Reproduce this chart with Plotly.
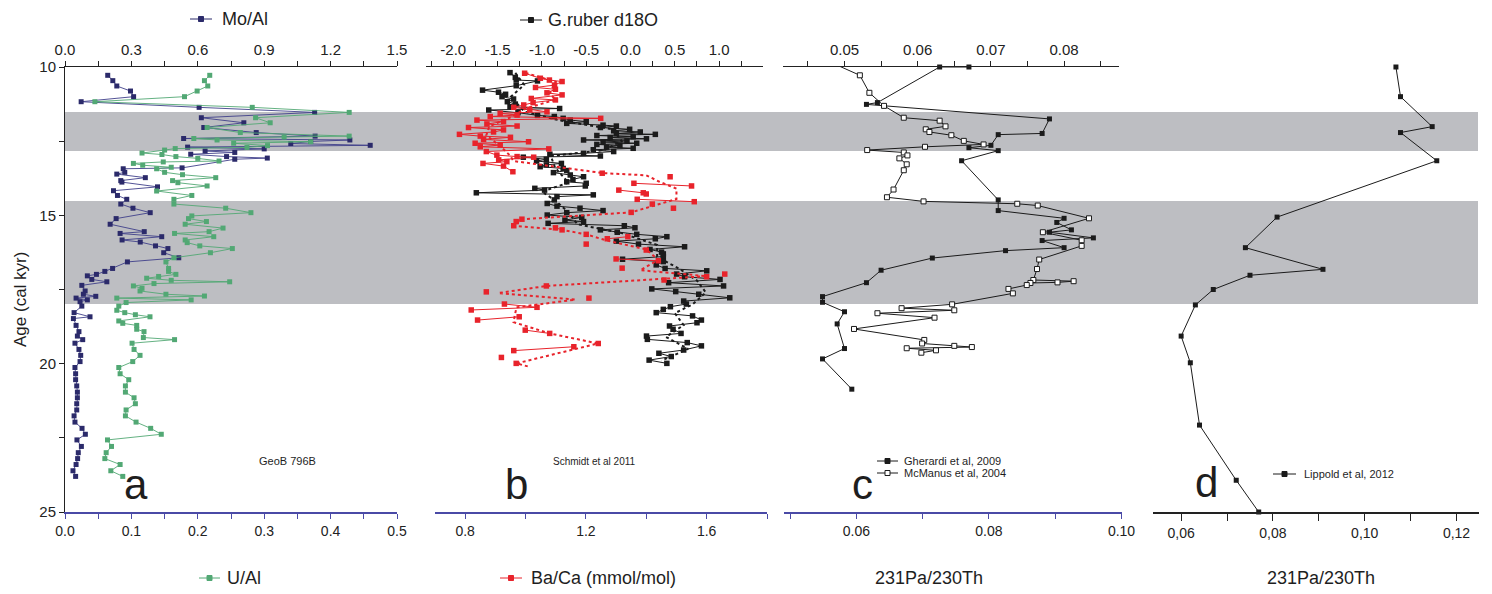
import plotly.graph_objects as go

# Target picture size and the browser's default page margin (8 px)
W, H = 1492, 594
OFF = 8
FW, FH = W - OFF, H - OFF

# ---------------- data ----------------
# Panel a: GeoB 796B
moal_age = [10.28, 10.46, 10.64, 10.81, 11.00, 11.17, 11.36, 11.53, 11.71, 11.88, 12.04, 12.21, 12.33, 12.41,
            12.46, 12.51, 12.58, 12.64, 12.70, 12.76, 12.83, 12.88, 12.94, 13.02, 13.07, 13.11, 13.40, 13.43,
            13.55, 13.61, 13.73, 13.83, 13.88, 14.04, 14.17, 14.33, 14.46, 14.62, 14.76, 14.91, 15.11, 15.30,
            15.55, 15.61, 15.72, 15.83, 15.90, 16.03, 16.12, 16.26, 16.43, 16.57, 16.79, 16.89, 16.99, 17.04,
            17.16, 17.24, 17.36, 17.55, 17.66, 17.73, 17.79, 17.85, 17.91, 18.06, 18.28, 18.42, 18.48, 18.71,
            18.92, 19.07, 19.19, 19.31, 19.52, 19.72, 19.93, 20.13, 20.34, 20.54, 20.75, 20.96, 21.15, 21.35,
            21.56, 21.76, 21.97, 22.18, 22.38, 22.57, 22.79, 23.00, 23.20, 23.40, 23.61, 23.80]
moal_val = [0.193, 0.216, 0.234, 0.296, 0.310, 0.073, 0.606, 1.128, 0.616, 0.808, 0.627, 0.864, 1.130, 0.536,
            1.287, 1.110, 1.020, 1.379, 0.554, 0.900, 0.633, 0.767, 0.568, 0.730, 0.914, 0.767, 0.529, 0.263,
            0.270, 0.234, 0.363, 0.252, 0.257, 0.418, 0.219, 0.237, 0.279, 0.252, 0.307, 0.385, 0.231, 0.204,
            0.358, 0.249, 0.437, 0.258, 0.340, 0.409, 0.465, 0.446, 0.514, 0.282, 0.215, 0.180, 0.142, 0.101,
            0.121, 0.189, 0.076, 0.091, 0.083, 0.139, 0.050, 0.101, 0.068, 0.076, 0.041, 0.113, 0.038, 0.050,
            0.063, 0.056, 0.080, 0.045, 0.063, 0.071, 0.068, 0.045, 0.048, 0.048, 0.053, 0.056, 0.056, 0.053,
            0.053, 0.041, 0.045, 0.077, 0.092, 0.054, 0.074, 0.060, 0.057, 0.050, 0.036, 0.048]

ual_age = [10.28, 10.46, 10.64, 10.81, 11.00, 11.17, 11.36, 11.53, 11.71, 11.88, 12.04, 12.21, 12.33, 12.36,
           12.41, 12.46, 12.52, 12.57, 12.65, 12.71, 12.75, 12.80, 12.90, 12.95, 13.02, 13.08, 13.17, 13.20,
           13.25, 13.31, 13.38, 13.43, 13.55, 13.63, 13.73, 13.83, 13.90, 14.01, 14.18, 14.33, 14.46, 14.62,
           14.76, 14.91, 15.02, 15.11, 15.21, 15.30, 15.43, 15.55, 15.61, 15.72, 15.83, 15.92, 16.03, 16.12,
           16.26, 16.43, 16.57, 16.79, 16.89, 16.99, 17.06, 17.12, 17.19, 17.24, 17.30, 17.38, 17.46, 17.55,
           17.66, 17.72, 17.79, 17.85, 17.94, 18.06, 18.20, 18.28, 18.35, 18.42, 18.56, 18.64, 18.71, 18.84,
           18.92, 19.12, 19.19, 19.31, 19.52, 19.72, 19.93, 20.13, 20.34, 20.54, 20.75, 20.96, 21.15, 21.35,
           21.56, 21.76, 21.97, 22.18, 22.38, 22.57, 22.79, 23.00, 23.20, 23.40, 23.61, 23.80]
ual_val = [0.218, 0.210, 0.215, 0.199, 0.180, 0.045, 0.282, 0.428, 0.287, 0.309, 0.214, 0.264, 0.428, 0.330,
           0.194, 0.229, 0.370, 0.254, 0.305, 0.274, 0.166, 0.150, 0.116, 0.146, 0.167, 0.200, 0.232, 0.148,
           0.103, 0.117, 0.160, 0.138, 0.150, 0.177, 0.227, 0.162, 0.170, 0.214, 0.138, 0.191, 0.164, 0.164,
           0.242, 0.280, 0.191, 0.186, 0.213, 0.181, 0.238, 0.217, 0.165, 0.224, 0.181, 0.184, 0.203, 0.252,
           0.219, 0.164, 0.152, 0.156, 0.156, 0.167, 0.141, 0.123, 0.160, 0.248, 0.134, 0.103, 0.116, 0.113,
           0.152, 0.210, 0.078, 0.190, 0.092, 0.081, 0.078, 0.090, 0.106, 0.128, 0.081, 0.087, 0.108, 0.108,
           0.119, 0.118, 0.165, 0.101, 0.104, 0.113, 0.102, 0.081, 0.083, 0.096, 0.091, 0.091, 0.104, 0.106,
           0.092, 0.091, 0.107, 0.129, 0.145, 0.064, 0.070, 0.062, 0.060, 0.083, 0.069, 0.087]

# Panel b: Schmidt et al 2011
d18o_age = [10.19, 10.35, 10.44, 10.47, 10.63, 10.78, 10.85, 10.92, 11.00, 11.08, 11.17, 11.25, 11.34, 11.40,
            11.45, 11.54, 11.63, 11.67, 11.73, 11.79, 11.84, 11.90, 11.96, 11.99, 12.04, 12.10, 12.15, 12.19,
            12.24, 12.27, 12.31, 12.35, 12.38, 12.42, 12.46, 12.49, 12.53, 12.57, 12.61, 12.65, 12.70, 12.74,
            12.79, 12.85, 12.91, 12.94, 13.00, 13.04, 13.11, 13.17, 13.25, 13.30, 13.36, 13.42, 13.49, 13.56,
            13.64, 13.70, 13.79, 13.87, 13.92, 14.01, 14.09, 14.15, 14.24, 14.31, 14.37, 14.48, 14.60, 14.69,
            14.76, 14.84, 14.91, 14.99, 15.07, 15.16, 15.21, 15.27, 15.35, 15.42, 15.49, 15.57, 15.64, 15.72,
            15.79, 15.87, 15.97, 16.06, 16.15, 16.24, 16.30, 16.39, 16.48, 16.56, 16.67, 16.79, 16.87, 16.98,
            17.07, 17.16, 17.27, 17.38, 17.48, 17.57, 17.66, 17.78, 17.89, 17.99, 18.08, 18.17, 18.28, 18.39,
            18.53, 18.62, 18.73, 18.84, 18.98, 19.07, 19.18, 19.29, 19.40, 19.54, 19.65, 19.76, 19.88, 19.99]
d18o_val = [-1.36, -1.30, -1.29, -1.05, -1.29, -1.67, -1.49, -1.41, -1.45, -1.32, -1.39, -1.30, -1.36, -0.80,
            -1.60, -1.27, -1.05, -0.86, -0.76, -0.68, -0.50, -0.72, -0.31, -0.16, -0.34, -0.01, -0.19, 0.11,
            -0.16, 0.28, -0.38, 0.03, -0.23, 0.18, -0.53, -0.04, -0.31, 0.07, -0.38, -0.12, -0.27, 0.03,
            -0.42, -0.19, -0.53, -0.91, -0.34, -1.21, -0.95, -1.06, -0.78, -0.95, -1.02, -0.76, -0.72, -0.87,
            -0.68, -0.53, -0.65, -0.72, -0.50, -0.51, -1.08, -0.97, -1.74, -0.42, -0.83, -0.86, -0.94, -0.83,
            -0.57, -0.31, -0.72, -0.94, -0.55, -0.74, -0.53, -0.93, -0.07, 0.05, -0.34, -0.15, 0.07, 0.41,
            0.28, -0.16, 0.09, 0.61, 0.22, 0.35, 0.37, 0.37, -0.09, 0.37, 0.29, 0.39, 0.86, 0.52,
            0.61, 1.01, 0.43, 1.05, 0.24, 0.51, 0.77, 1.12, 0.60, 0.63, 0.45, 0.37, 0.29, 0.70,
            0.80, 0.75, 0.44, 0.48, 0.57, 0.18, 0.19, 0.64, 0.80, 0.60, 0.32, 0.46, 0.21, 0.41]
d18o_smooth_age = [10.2, 10.6, 11.0, 11.5, 11.8, 12.1, 12.5, 12.8, 13.0, 13.4, 13.9, 14.2, 14.5, 14.9,
                   15.3, 15.6, 16.0, 16.4, 16.8, 17.2, 17.6, 18.0, 18.3, 18.7, 19.1, 19.5, 19.9]
d18o_smooth_val = [-1.30, -1.20, -1.35, -1.20, -0.80, -0.20, -0.10, -0.30, -0.90, -0.85, -0.70, -1.00, -0.85,
                   -0.70, -0.60, -0.10, 0.30, 0.30, 0.55, 0.75, 0.85, 0.70, 0.50, 0.60, 0.40, 0.65, 0.35]

baca_age = [10.21, 10.38, 10.44, 10.49, 10.61, 10.69, 10.75, 10.87, 10.94, 11.06, 11.11, 11.20, 11.28, 11.36,
            11.43, 11.51, 11.56, 11.62, 11.67, 11.73, 11.79, 11.84, 11.92, 11.99, 12.04, 12.12, 12.19, 12.27,
            12.33, 12.37, 12.44, 12.52, 12.57, 12.63, 12.69, 12.76, 12.85, 12.97, 13.02, 13.04, 13.13, 13.19,
            13.25, 13.34, 13.53, None, 13.58, None, 13.70, None, 13.92, 14.01, None, 14.15, 14.24, 14.28, None,
            14.46, 14.54, None, 14.62, None, 14.76, None, 14.90, None, 15.13, 15.21, None, 15.35, None, 15.42,
            15.49, None, 15.64, None, 15.72, 15.79, None, 15.97, None, 16.17, None, 16.47, 16.53, None, 16.78,
            None, 16.98, None, 17.07, None, 17.18, None, 17.38, None, 17.58, None, 17.79, None, 17.99, 18.10,
            18.19, None, 18.42, 18.53, None, 18.87, 18.98, None, 19.32, None, 19.43, 19.56, None, 19.79, None,
            19.99]
baca_val = [0.997, 1.049, 1.079, 1.121, 1.096, 1.033, 1.099, 1.071, 1.121, 1.019, 1.099, 1.025, 0.994, 0.961,
            1.014, 1.071, 0.916, 0.972, 0.883, 1.249, 0.839, 0.927, 0.872, 0.972, 0.811, 0.927, 0.894, 0.781,
            0.850, 0.950, 0.861, 1.010, 0.833, 0.916, 0.850, 1.077, 0.870, 0.905, 0.972, 1.027, 0.911, 0.938,
            0.859, 0.927, 0.958, None, 1.254, None, 1.479, None, 1.359, 1.550, None, 1.309, 1.390, 1.400, None,
            1.370, 1.559, None, 1.420, None, 1.490, None, 1.350, None, 0.988, 0.969, None, 0.961, None, 1.099,
            1.121, None, 1.201, None, 1.339, 1.271, None, 1.201, None, 1.400, None, 1.300, 1.440, None, 1.320,
            None, 1.660, None, 1.600, None, 1.459, None, 1.069, None, 0.870, None, 1.210, None, 0.930, 1.038,
            0.820, None, 0.979, 0.841, None, 0.999, 1.080, None, 1.241, None, 1.160, 0.961, None, 0.920, None,
            0.969]
baca_smooth_age = [10.2, 10.5, 10.9, 11.1, 11.4, 11.7, 12.0, 12.3, 12.7, 13.0, 13.17, 13.58, 13.65, 13.85,
                   14.1, 14.45, 14.9, 15.13, 15.35, 15.49, 15.64, 15.85, 16.15, 16.5, 16.85, 17.05, 17.38,
                   17.62, 17.84, 18.1, 18.6, 18.98, 19.32, 19.99, 20.1]
baca_smooth_val = [1.00, 1.10, 1.08, 1.10, 1.00, 0.95, 0.88, 0.87, 0.92, 0.95, 0.96, 1.26, 1.40, 1.44,
                   1.50, 1.50, 1.35, 0.99, 0.96, 1.12, 1.20, 1.27, 1.40, 1.44, 1.38, 1.60, 1.07,
                   0.91, 1.165, 0.97, 0.96, 1.08, 1.24, 0.97, 1.01]

# Panel c: 231Pa/230Th
gher_age = [10.00, 10.00, 11.20, 11.26, 11.75, 12.24, 12.28, 12.64, 12.72, 12.82, 13.16, 14.48, 14.84, 15.10,
            15.24, 15.49, 15.57, 15.76, 15.85, 16.09, 16.19, 16.44, 16.85, 17.27, 17.74, 17.93, 18.25, 18.66,
            19.49, 19.84, 20.86]
gher_val = [0.0670, 0.0630, 0.0545, 0.0530, 0.0780, 0.0770, 0.0710, 0.0700, 0.0670, 0.0710, 0.0660, 0.0710,
            0.0710, 0.0800, 0.0790, 0.0810, 0.0780, 0.0840, 0.0770, 0.0800, 0.0720, 0.0620, 0.0550, 0.0530,
            0.0470, 0.0470, 0.0500, 0.0490, 0.0500, 0.0470, 0.0510]
mcm_age = [9.96, 10.28, 10.87, 11.31, 11.71, 11.81, 12.00, 12.10, 12.19, 12.30, 12.49, 12.61, 12.69, 12.80,
           12.88, 12.98, 13.08, 13.28, 13.48, 14.13, 14.39, 14.53, 14.61, 14.67, 15.10, 15.57, 15.84, 16.03,
           16.49, 16.81, 17.18, 17.22, 17.26, 17.28, 17.35, 17.48, 17.63, 18.00, 18.13, 18.20, 18.30, 18.45,
           18.83, 19.20, 19.32, 19.40, 19.44, 19.48, 19.55, 19.63]
mcm_val = [0.0492, 0.0521, 0.0534, 0.0554, 0.0581, 0.0630, 0.0638, 0.0611, 0.0616, 0.0646, 0.0663, 0.0690,
           0.0610, 0.0531, 0.0581, 0.0586, 0.0575, 0.0585, 0.0581, 0.0567, 0.0558, 0.0608, 0.0736, 0.0764,
           0.0834, 0.0771, 0.0824, 0.0824, 0.0766, 0.0763, 0.0758, 0.0813, 0.0791, 0.0754, 0.0749, 0.0724,
           0.0730, 0.0647, 0.0578, 0.0650, 0.0545, 0.0623, 0.0513, 0.0609, 0.0606, 0.0650, 0.0674, 0.0585,
           0.0625, 0.0605]

# Panel d: Lippold et al 2012
lip_age = [10.00, 11.00, 12.01, 12.21, 13.16, 15.06, 16.09, 16.82, 17.02, 17.50, 18.02, 19.07, 19.97, 22.07,
           23.93, 25.00]
lip_val = [0.1068, 0.1078, 0.1147, 0.1078, 0.1157, 0.0809, 0.0740, 0.0909, 0.0750, 0.0670, 0.0631, 0.0600,
           0.0620, 0.0640, 0.0720, 0.0769]

# shaded intervals (cal kyr)
band_start = [11.52, 14.52]
band_end = [12.83, 17.99]

# ---------------- styling helpers ----------------
NAVY = "#2b2a6a"
GREEN = "#52a874"
RED = "#e8232b"
BLACK = "#1b1b1b"
BLUEAX = "#4a4aa6"
FONT = "Liberation Sans, Arial, sans-serif"


def px(x):
    return (x - OFF) / FW


def py(y):
    return 1 - (y - OFF) / FH


fig = go.Figure()

# Panel a
fig.add_trace(go.Scatter(x=ual_val, y=ual_age, xaxis="x2", yaxis="y", mode="lines+markers",
                         line=dict(color=GREEN, width=0.9),
                         marker=dict(symbol="square", size=5, color=GREEN), cliponaxis=False))
fig.add_trace(go.Scatter(x=moal_val, y=moal_age, xaxis="x", yaxis="y", mode="lines+markers",
                         line=dict(color="#3f3f8a", width=0.9),
                         marker=dict(symbol="square", size=5, color=NAVY), cliponaxis=False))
# Panel b
fig.add_trace(go.Scatter(x=d18o_smooth_val, y=d18o_smooth_age, xaxis="x3", yaxis="y", mode="lines",
                         line=dict(color=BLACK, width=2, dash="dot")))
fig.add_trace(go.Scatter(x=d18o_val, y=d18o_age, xaxis="x3", yaxis="y", mode="lines+markers",
                         line=dict(color=BLACK, width=1),
                         marker=dict(symbol="square", size=5.5, color=BLACK)))
fig.add_trace(go.Scatter(x=baca_smooth_val, y=baca_smooth_age, xaxis="x4", yaxis="y", mode="lines",
                         line=dict(color=RED, width=2, dash="dot")))
fig.add_trace(go.Scatter(x=baca_val, y=baca_age, xaxis="x4", yaxis="y", mode="lines+markers",
                         connectgaps=False, line=dict(color=RED, width=1),
                         marker=dict(symbol="square", size=5.5, color=RED)))
# Panel c
fig.add_trace(go.Scatter(x=gher_val, y=gher_age, xaxis="x5", yaxis="y", mode="lines+markers",
                         line=dict(color=BLACK, width=1),
                         marker=dict(symbol="square", size=5, color=BLACK), cliponaxis=False))
fig.add_trace(go.Scatter(x=mcm_val, y=mcm_age, xaxis="x5", yaxis="y", mode="lines+markers",
                         line=dict(color=BLACK, width=1),
                         marker=dict(symbol="square", size=5, color="white",
                                     line=dict(color=BLACK, width=1)), cliponaxis=False))
# Panel d
fig.add_trace(go.Scatter(x=lip_val, y=lip_age, xaxis="x7", yaxis="y", mode="lines+markers",
                         line=dict(color=BLACK, width=1),
                         marker=dict(symbol="square", size=5, color=BLACK), cliponaxis=False))
# activates the bottom axis of panel c
fig.add_trace(go.Scatter(x=[None], y=[None], xaxis="x6", yaxis="y", showlegend=False))

# gray bands
shapes = []
for s, e in zip(band_start, band_end):
    shapes.append(dict(type="rect", xref="paper", yref="y", x0=px(65), x1=px(1478), y0=s, y1=e,
                       fillcolor="#bdbec2", line=dict(width=0), layer="below"))


def legend_symbol(x0, x1, y, color, open_sq=False):
    xm = (x0 + x1) / 2
    shapes.append(dict(type="line", xref="paper", yref="paper", x0=px(x0), x1=px(x1), y0=py(y), y1=py(y),
                       line=dict(color=color, width=1)))
    shapes.append(dict(type="rect", xref="paper", yref="paper", x0=px(xm - 2.5), x1=px(xm + 2.5),
                       y0=py(y + 2.5), y1=py(y - 2.5), fillcolor="white" if open_sq else color,
                       line=dict(color=color, width=1)))


legend_symbol(190, 212, 19, NAVY)
legend_symbol(520, 542, 20, BLACK)
legend_symbol(199, 220, 578, GREEN)
legend_symbol(500, 522, 578, RED)
legend_symbol(877, 898, 461, BLACK)
legend_symbol(877, 898, 473, BLACK, open_sq=True)
legend_symbol(1273, 1296, 474, BLACK)

ann = []


def text(x, y, s, size, anchor="left", color="#1e1e1e", angle=0):
    ann.append(dict(x=px(x), y=py(y), xref="paper", yref="paper", text=s, showarrow=False,
                    xanchor=anchor, yanchor="middle", textangle=angle,
                    font=dict(family=FONT, size=size, color=color)))


text(220, 19, "Mo/Al", 18)
text(546, 20, "G.ruber d18O", 18)
text(225, 578, "U/Al", 18)
text(529, 578, "Ba/Ca (mmol/mol)", 18)
text(929, 578, "231Pa/230Th", 18, anchor="center")
text(1321, 578, "231Pa/230Th", 18, anchor="center")
text(20, 300, "Age (cal kyr)", 17, anchor="center", angle=-90)
text(136, 484, "a", 42, anchor="center")
text(516, 484, "b", 42, anchor="center")
text(862, 484, "c", 42, anchor="center")
text(1206, 482, "d", 42, anchor="center")
text(287, 461, "GeoB 796B", 11, anchor="center")
text(594, 461, "Schmidt et al 2011", 10, anchor="center")
text(902, 461, "Gherardi et al, 2009", 11)
text(902, 473, "McManus et al, 2004", 11)
text(1302, 474, "Lippold et al, 2012", 11)

tickfont_top = dict(family=FONT, size=15, color="#222")
tickfont_bot = dict(family=FONT, size=14, color="#222")


def top_axis(domain, rng, tickvals, ticktext, minor_dtick, minor_tick0):
    return dict(domain=domain, range=rng, anchor="y", side="top", showline=True, linecolor="#222",
                linewidth=1, ticks="outside", ticklen=5, tickcolor="#222", tickvals=tickvals,
                ticktext=ticktext, tickfont=tickfont_top, showgrid=False, zeroline=False,
                minor=dict(ticks="outside", ticklen=5, tickcolor="#222", dtick=minor_dtick, tick0=minor_tick0),
                fixedrange=True)


def bottom_axis(domain, rng, tickvals, ticktext, minor_dtick, minor_tick0, color=BLUEAX, ticklen=5):
    return dict(domain=domain, range=rng, anchor="y", side="bottom", showline=True, linecolor=color,
                linewidth=1.5, ticks="outside", ticklen=ticklen, tickcolor=color, tickvals=tickvals,
                ticktext=ticktext, tickfont=tickfont_bot, showgrid=False, zeroline=False,
                minor=dict(ticks="outside", ticklen=ticklen, tickcolor=color, dtick=minor_dtick, tick0=minor_tick0),
                fixedrange=True)


moal_ticks = [0.0, 0.3, 0.6, 0.9, 1.2, 1.5]
ual_ticks = [0.0, 0.1, 0.2, 0.3, 0.4, 0.5]
d18o_ticks = [-2.0, -1.5, -1.0, -0.5, 0.0, 0.5, 1.0, 1.5]
baca_ticks = [0.8, 1.2, 1.6]
pac_top_ticks = [0.05, 0.06, 0.07, 0.08]
pac_bot_ticks = [0.06, 0.08, 0.10]
pad_ticks = [0.06, 0.08, 0.10, 0.12]

fig.update_layout(
    width=FW, height=FH, margin=dict(l=0, r=0, t=0, b=0, autoexpand=False),
    paper_bgcolor="white", plot_bgcolor="rgba(0,0,0,0)", showlegend=False,
    font=dict(family=FONT, color="#222"),
    xaxis=top_axis([px(65), px(397)], [0, 1.5], moal_ticks, ["%.1f" % v for v in moal_ticks], 0.15, 0),
    xaxis2=bottom_axis([px(65), px(397)], [0, 0.5], ual_ticks, ["%.1f" % v for v in ual_ticks], 0.05, 0),
    xaxis3=top_axis([px(426), px(763)], [-2.308, 1.495], d18o_ticks,
                    ["%.1f" % v for v in d18o_ticks], 0.25, 0),
    xaxis4=bottom_axis([px(435), px(767)], [0.7, 1.8], baca_ticks, ["%.1f" % v for v in baca_ticks], 0.2, 0),
    xaxis5=top_axis([px(783), px(1119)], [0.0416, 0.0875], pac_top_ticks,
                    ["%.2f" % v for v in pac_top_ticks], 0.005, 0),
    xaxis6=bottom_axis([px(783.5), px(1121.5)], [0.049, 0.1], pac_bot_ticks,
                       ["%.2f" % v for v in pac_bot_ticks], 0.01, 0),
    xaxis7=bottom_axis([px(1152.7), px(1479)], [0.0538, 0.1249], pad_ticks,
                       [("%.2f" % v).replace(".", ",") for v in pad_ticks], 0.01, 0, color="#222", ticklen=7),
    yaxis=dict(domain=[py(512), py(67)], range=[25, 10], anchor="x", side="left", showline=True,
               linecolor="#222", linewidth=1, ticks="outside", ticklen=5, tickcolor="#222",
               tickvals=[10, 15, 20, 25], tickfont=dict(family=FONT, size=15, color="#222"),
               minor=dict(ticks="outside", ticklen=5, tickcolor="#222", dtick=2.5, tick0=10),
               showgrid=False, zeroline=False, fixedrange=True),
    shapes=shapes, annotations=ann,
)

fig.write_html("out.html")
